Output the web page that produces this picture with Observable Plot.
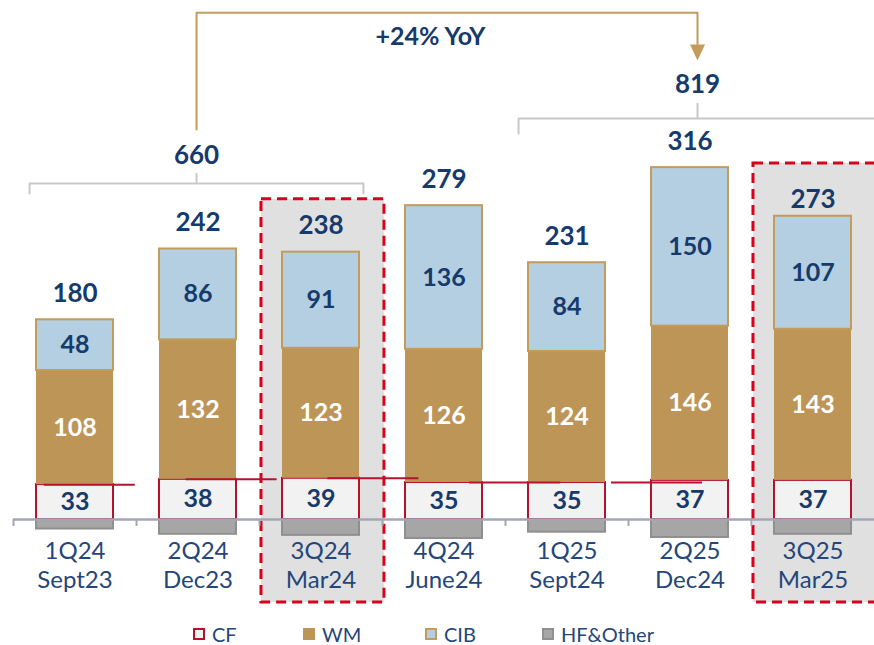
<!DOCTYPE html>
<html><head><meta charset="utf-8">
<script src="https://cdn.jsdelivr.net/npm/d3@7"></script>
<script src="https://cdn.jsdelivr.net/npm/@observablehq/plot@0.6"></script>
<style>
html,body{margin:0;padding:0;background:#fff;overflow:hidden;}
#chart{position:relative;width:874px;height:645px;}
.legend{position:absolute;top:612px;left:0;width:874px;height:33px;font-family:Lato,"Noto Sans",sans-serif;font-size:20px;line-height:20px;color:#24467a;}
.item{position:absolute;top:12px;height:20px;display:flex;align-items:center;white-space:nowrap;}
.item span{line-height:20px;display:block;height:20px;}
.sw{width:12px;height:12px;box-sizing:border-box;margin-right:7px;}
</style></head>
<body><div id="chart"></div>
<script>
// ---- data ----
const quarters = ["1Q24","2Q24","3Q24","4Q24","1Q25","2Q25","3Q25"];
const periods  = ["Sept23","Dec23","Mar24","June24","Sept24","Dec24","Mar25"];
const CF   = [33, 38, 39, 35, 35, 37, 37];
const WM   = [108, 132, 123, 126, 124, 146, 143];
const CIB  = [48, 86, 91, 136, 84, 150, 107];
const HF   = [-9, -14, -15, -18, -12, -17, -14];
const totals = [180, 242, 238, 279, 231, 316, 273];
const highlighted = ["3Q24","3Q25"];
const groupLabels = ["660","819"];
const groupRanges = [["1Q24","3Q24"],["1Q25","3Q25"]];
const yoyLabel = "+24% YoY";
const seriesNames = ["CF","WM","CIB","HF&Other"];

// ---- styles ----
const navy = "#173a6c", gold = "#bd9557", goldLine = "#c39b5a";
const font = "Lato, 'Noto Sans', sans-serif";
const k = 1.0567;           // px per unit
const hw = 0.313;           // half bar width (in band steps)

const rows = quarters.map((q, i) => ({
  i, q, period: periods[i], cf: CF[i], wm: WM[i], cib: CIB[i], hf: HF[i],
  total: totals[i], top: CF[i] + WM[i] + CIB[i]
}));
const idx = q => quarters.indexOf(q);
const groups = groupRanges.map(([a, b], g) => {
  const c = (idx(a) + idx(b)) / 2 + (g === 0 ? -0.012 : 0.061);
  const half = g === 0 ? 1.357 : 1.455;
  return {label: groupLabels[g], c, x1: c - half, x2: c + half};
});
const G1 = groups[0], G2 = groups[1];
const bracket = (g, yLine, yEnd) => [
  {x: g.x1, y: yEnd}, {x: g.x1, y: yLine}, {x: g.x2, y: yLine}, {x: g.x2, y: yEnd}
];

const plot = Plot.plot({
  width: 874, height: 612,
  marginLeft: 13, marginRight: 0, marginTop: 0, marginBottom: 0,
  x: {type: "linear", domain: [-0.5, 6.5], axis: null},
  y: {domain: [-88.0, 491.15], axis: null},
  marks: [
    // highlight boxes
    Plot.rect(rows.filter(d => highlighted.includes(d.q)), {
      x1: d => d.i - 0.484, x2: d => d.i + 0.516,
      y1: () => -78.5, y2: d => d.top + 50,
      fill: "#e0e0e0", stroke: "#d9001b", strokeWidth: 3, strokeDasharray: "10,6"
    }),
    // HF&Other (negative)
    Plot.rect(rows, {x1: d => d.i - hw, x2: d => d.i + hw, y1: () => 0, y2: "hf",
      fill: "#a6a6a6", stroke: "#8f8f8f", strokeWidth: 2}),
    // CF
    Plot.rect(rows, {x1: d => d.i - hw, x2: d => d.i + hw, y1: () => 0, y2: "cf",
      fill: "#f2f2f2", stroke: "#b4122e", strokeWidth: 2}),
    // WM
    Plot.rect(rows, {x1: d => d.i - hw, x2: d => d.i + hw, y1: "cf", y2: d => d.cf + d.wm,
      fill: gold}),
    // CIB
    Plot.rect(rows, {x1: d => d.i - hw, x2: d => d.i + hw, y1: d => d.cf + d.wm, y2: "top",
      fill: "#b3cfe1", stroke: goldLine, strokeWidth: 2}),
    // misaligned CF connector lines
    Plot.ruleY(rows.slice(0, 5), {y: "cf", x1: d => d.i * 1.153 - 0.25, x2: d => d.i * 1.153 + 0.49,
      stroke: "#b4122e", strokeWidth: 2}),
    // axis line and boundary ticks
    Plot.ruleY([0], {stroke: "#a3a7b4", strokeWidth: 2.5}),
    Plot.ruleX(rows, {x: d => d.i - 0.5, y1: () => 0, y2: () => -7 / k, stroke: "#a3a7b4", strokeWidth: 2}),
    // x labels
    Plot.text(rows, {x: "i", y: () => -42.6, text: d => d.q + "\n" + d.period,
      lineHeight: 1.17, fontSize: 24, fontFamily: font, fill: "#24467a"}),
    // inner labels
    Plot.text(rows, {x: "i", y: d => d.cf / 2, text: d => String(d.cf),
      fontSize: 25, fontWeight: 700, fontFamily: font, fill: navy}),
    Plot.text(rows, {x: "i", y: d => d.cf + d.wm / 2, text: d => String(d.wm),
      fontSize: 25, fontWeight: 700, fontFamily: font, fill: "#ffffff"}),
    Plot.text(rows, {x: "i", y: d => d.cf + d.wm + d.cib / 2, text: d => String(d.cib),
      fontSize: 25, fontWeight: 700, fontFamily: font, fill: navy}),
    // totals
    Plot.text(rows.filter(d => d.q !== "3Q25"), {x: "i", y: "top", dy: -26, text: d => String(d.total),
      fontSize: 26, fontWeight: 700, fontFamily: font, fill: navy}),
    Plot.text(rows.filter(d => d.q === "3Q25"), {x: "i", y: "top", dy: -17, text: d => String(d.total),
      fontSize: 26, fontWeight: 700, fontFamily: font, fill: navy}),
    // group brackets
    Plot.line(bracket(G1, 318, 308.5), {x: "x", y: "y", stroke: "#c8c8c8", strokeWidth: 2}),
    Plot.ruleX([G1], {x: "c", y1: () => 318, y2: () => 327.4, stroke: "#c8c8c8", strokeWidth: 2}),
    Plot.line(bracket(G2, 379.5, 365.3), {x: "x", y: "y", stroke: "#c8c8c8", strokeWidth: 2}),
    Plot.ruleX([G2], {x: "c", y1: () => 379.5, y2: () => 393.7, stroke: "#c8c8c8", strokeWidth: 2}),
    Plot.text(groups, {x: "c", y: (d, j) => j === 0 ? 344.5 : 411.7, text: "label",
      fontSize: 26, fontWeight: 700, fontFamily: font, fill: navy}),
    // YoY connector arrow
    Plot.line([{x: G1.c, y: 369.1}, {x: G1.c, y: 479.5}, {x: G2.c, y: 479.5}, {x: G2.c, y: 449.5}],
      {x: "x", y: "y", stroke: goldLine, strokeWidth: 2}),
    Plot.line([{x: G2.c - 0.061, y: 449.5}, {x: G2.c + 0.061, y: 449.5}, {x: G2.c, y: 434.4}, {x: G2.c - 0.061, y: 449.5}],
      {x: "x", y: "y", fill: goldLine, stroke: "none"}),
    Plot.text([yoyLabel], {x: () => 2.89, y: () => 457, text: d => d,
      fontSize: 25, fontWeight: 700, fontFamily: font, fill: navy, letterSpacing: "0.8px"})
  ]
});
const chart = document.getElementById("chart");
chart.appendChild(plot);

// legend
const swatches = [
  {bg: "#f2f2f2", border: "2px solid #b4122e", left: 193},
  {bg: gold, border: "none", left: 303},
  {bg: "#b3cfe1", border: "2px solid " + goldLine, left: 425},
  {bg: "#a6a6a6", border: "2px solid #8f8f8f", left: 542}
];
const leg = document.createElement("div");
leg.className = "legend";
seriesNames.forEach((name, j) => {
  const it = document.createElement("div");
  it.className = "item";
  it.style.left = swatches[j].left + "px";
  const sw = document.createElement("div");
  sw.className = "sw";
  sw.style.background = swatches[j].bg;
  sw.style.border = swatches[j].border;
  const tx = document.createElement("span");
  tx.textContent = name;
  it.appendChild(sw); it.appendChild(tx);
  leg.appendChild(it);
});
chart.appendChild(leg);
</script>
</body></html>
